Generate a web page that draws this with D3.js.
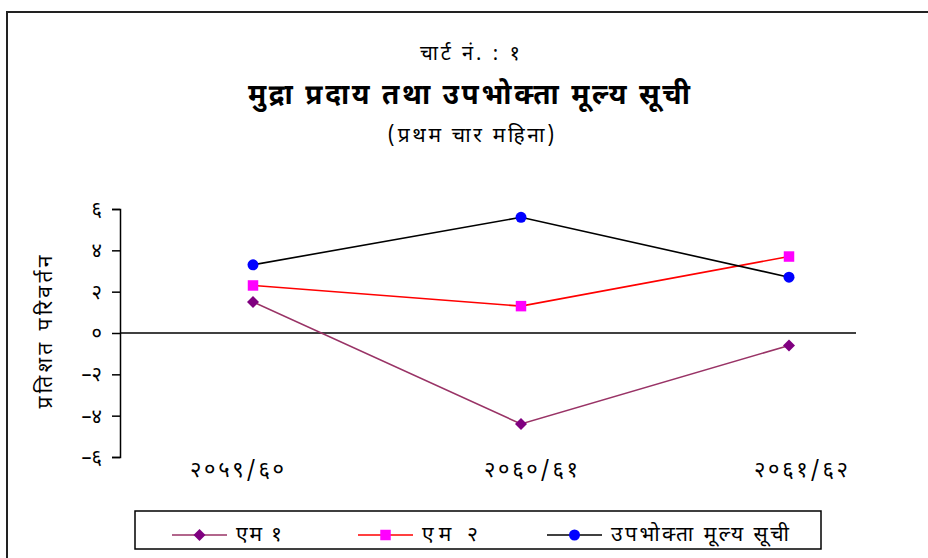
<!DOCTYPE html>
<html>
<head>
<meta charset="utf-8">
<script src="https://cdn.jsdelivr.net/npm/d3@7/dist/d3.min.js"></script>
<style>
  html, body { margin: 0; padding: 0; background: #fff; }
  svg { display: block; }
  text { font-family: "Noto Sans Devanagari", "Noto Sans", "Lohit Devanagari", "FreeSans", sans-serif; fill: #000; }
</style>
</head>
<body>
<svg id="chart" width="928" height="558"></svg>
<script>
const categories = ["२०५९/६०", "२०६०/६१", "२०६१/६२"];
const seriesNames = ["एम १", "एम २", "उपभोक्ता मूल्य सूची"];
const m1Values = [1.5, -4.4, -0.6];
const m2Values = [2.3, 1.3, 3.7];
const cpiValues = [3.3, 5.6, 2.7];
const yTicks = [-6, -4, -2, 0, 2, 4, 6];
const yTickLabels = ["–६", "–४", "–२", "०", "२", "४", "६"];
const labelDx = [-16, 10, 12];

const svg = d3.select("#chart");

// outer frame
svg.append("rect")
  .attr("x", 7).attr("y", 12).attr("width", 940).attr("height", 560)
  .attr("fill", "none").attr("stroke", "#222").attr("stroke-width", 2);

// titles
svg.append("text").attr("x", 470).attr("y", 60).attr("text-anchor", "middle")
  .attr("textLength", 100).attr("lengthAdjust", "spacing")
  .style("font-size", "20px").text("चार्ट नं. : १");
svg.append("text").attr("x", 469).attr("y", 104).attr("text-anchor", "middle")
  .attr("textLength", 442).attr("lengthAdjust", "spacing")
  .style("font-size", "28px").style("font-weight", "bold").text("मुद्रा प्रदाय तथा उपभोक्ता मूल्य सूची");
svg.append("text").attr("x", 471).attr("y", 142).attr("text-anchor", "middle")
  .attr("textLength", 167).attr("lengthAdjust", "spacing")
  .style("font-size", "21px").text("(प्रथम चार महिना)");

// scales
const x = d3.scaleBand().domain(categories).range([119, 923]).padding(0);
const cx = c => x(c) + x.bandwidth() / 2;
const y = d3.scaleLinear().domain([-6, 6]).range([457, 209]);

// y axis
const yAxis = d3.axisLeft(y).tickValues(yTicks)
  .tickFormat((d, i) => yTickLabels[i]).tickSize(8).tickPadding(10);
const gy = svg.append("g").attr("transform", "translate(120,0)").call(yAxis);
gy.select(".domain").attr("stroke", "#000").attr("stroke-width", 1.5);
gy.selectAll(".tick line").attr("stroke", "#000").attr("stroke-width", 1.5);
gy.selectAll(".tick text").style("font-size", "20px")
  .style("font-family", "\"Noto Sans Devanagari\", \"Noto Sans\", sans-serif");

// zero / category axis line
svg.append("line")
  .attr("x1", 120).attr("x2", 856).attr("y1", y(0)).attr("y2", y(0))
  .attr("stroke", "#000").attr("stroke-width", 1.5);

// category labels
svg.append("g").selectAll("text").data(categories).join("text")
  .attr("x", (d, i) => cx(d) + labelDx[i]).attr("y", 477)
  .attr("text-anchor", "middle")
  .attr("textLength", 94).attr("lengthAdjust", "spacing")
  .style("font-size", "22px").text(d => d);

// y axis title
svg.append("text")
  .attr("transform", `translate(52,${332}) rotate(-90)`)
  .attr("text-anchor", "middle")
  .attr("textLength", 153).attr("lengthAdjust", "spacing")
  .style("font-size", "21px").text("प्रतिशत परिवर्तन");

const series = [
  { name: seriesNames[0], values: m1Values, line: "#993366", marker: "#800080", shape: d3.symbolSquare, size: 72, rot: 45, tl: 46 },
  { name: seriesNames[1], values: m2Values, line: "#FF0000", marker: "#FF00FF", shape: d3.symbolSquare, size: 110, rot: 0, tl: 56 },
  { name: seriesNames[2], values: cpiValues, line: "#000000", marker: "#0000FF", shape: d3.symbolCircle, size: 95, rot: 0, tl: 178 }
];

const lineGen = d3.line().x((d, i) => cx(categories[i])).y(d => y(d));

series.forEach(s => {
  svg.append("path").datum(s.values).attr("d", lineGen)
    .attr("fill", "none").attr("stroke", s.line).attr("stroke-width", 1.6);
  svg.append("g").selectAll("path").data(s.values).join("path")
    .attr("transform", (d, i) => `translate(${cx(categories[i])},${y(d)}) rotate(${s.rot})`)
    .attr("d", d3.symbol().type(s.shape).size(s.size))
    .attr("fill", s.marker);
});

// legend
svg.append("rect").attr("x", 135).attr("y", 511).attr("width", 686).attr("height", 38)
  .attr("fill", "#fff").attr("stroke", "#000").attr("stroke-width", 1.5);
const legendX = [172, 358, 547];
const legendY = 535;
series.forEach((s, i) => {
  const g = svg.append("g").attr("transform", `translate(${legendX[i]},${legendY})`);
  g.append("line").attr("x1", 0).attr("x2", 55).attr("y1", 0).attr("y2", 0)
    .attr("stroke", s.line).attr("stroke-width", 1.6);
  g.append("path").attr("transform", `translate(27.5,0) rotate(${s.rot})`)
    .attr("d", d3.symbol().type(s.shape).size(s.size)).attr("fill", s.marker);
  g.append("text").attr("x", 64).attr("y", 6)
    .attr("textLength", s.tl).attr("lengthAdjust", "spacing")
    .style("font-size", "21px").text(s.name);
});
</script>
</body>
</html>
